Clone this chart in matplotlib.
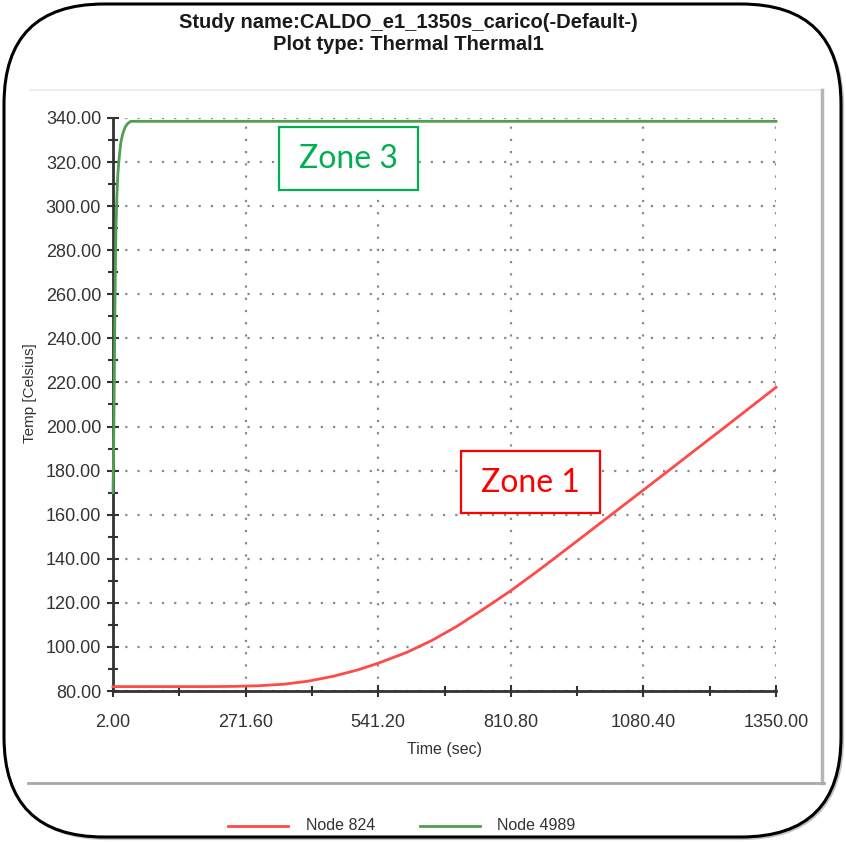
import matplotlib
matplotlib.use("Agg")
import matplotlib.pyplot as plt
from matplotlib.patches import FancyBboxPatch, Rectangle
from matplotlib.ticker import FixedLocator, MultipleLocator
from matplotlib.lines import Line2D

# ---- data ----
title_lines = ["Study name:CALDO_e1_1350s_carico(-Default-)", "Plot type: Thermal Thermal1"]
x_ticks = [2.00, 271.60, 541.20, 810.80, 1080.40, 1350.00]
y_ticks = [80, 100, 120, 140, 160, 180, 200, 220, 240, 260, 280, 300, 320, 340]

time_824 = [2, 100, 200, 250, 300, 350, 400, 450, 500, 541.2, 600, 650, 700, 750, 810.8,
            870, 930, 1000, 1080.4, 1130, 1200, 1240, 1300, 1350]
temp_824 = [82, 82, 82, 82.1, 82.4, 83.1, 84.5, 86.7, 89.6, 92.6, 97.6, 102.9, 109.2, 116.4, 125.5,
            135.2, 145.4, 157.4, 171.2, 179.7, 191.8, 198.7, 209.1, 217.8]

time_4989 = [2, 3, 4, 5, 6, 7, 8, 10, 12, 15, 18, 22, 27, 32, 38, 50, 1350]
temp_4989 = [170, 185, 205, 230, 255, 275, 290, 305, 315, 323, 329, 333, 336, 337.5,
             338.5, 338.5, 338.5]

series_names = ["Node 824", "Node 4989"]
red = "#ff4a4a"
green = "#4f9f4f"

W, H = 846, 842
fig = plt.figure(figsize=(W / 100, H / 100), dpi=100)
fig.patch.set_facecolor("white")

# background frame axes in pixel coordinates
bg = fig.add_axes([0, 0, 1, 1], zorder=-5)
bg.set_xlim(0, W)
bg.set_ylim(H, 0)
bg.axis("off")
shadow = FancyBboxPatch((7, 7), W - 11, H - 11,
                        boxstyle="round,pad=0,rounding_size=100",
                        fc="none", ec="#9a9a9a", lw=3, alpha=0.6)
bg.add_patch(shadow)
frame = FancyBboxPatch((4, 4), W - 9, H - 9,
                       boxstyle="round,pad=0,rounding_size=100",
                       fc="white", ec="black", lw=2.2)
bg.add_patch(frame)
# inner panel lines
bg.plot([30, 822], [90, 90], color="#eeeeee", lw=1.5)
bg.plot([822, 822], [90, 783], color="#b5b5b5", lw=2.5)
bg.plot([28, 824], [783, 783], color="#a8a8a8", lw=2)

# title
fig.text(408 / W, 1 - 22 / H, title_lines[0], ha="center", va="center",
         fontsize=14.5, fontweight="bold", family="Liberation Sans", color="#1a1a1a")
fig.text(408 / W, 1 - 45 / H, title_lines[1], ha="center", va="center",
         fontsize=14.5, fontweight="bold", family="Liberation Sans", color="#1a1a1a")

# main axes
ax = fig.add_axes([113 / W, 1 - 691 / H, (776 - 113) / W, (691 - 118) / H])
ax.set_facecolor("none")
ax.plot(time_824, temp_824, color=red, lw=2, zorder=3, clip_on=False)
ax.plot(time_4989, temp_4989, color=green, lw=2, zorder=3, clip_on=False)
ax.set_xlim(2, 1350)
ax.set_ylim(80, 340)

ax.xaxis.set_major_locator(FixedLocator(x_ticks))
ax.set_xticklabels([f"{v:.2f}" for v in x_ticks])
ax.xaxis.set_minor_locator(FixedLocator([(x_ticks[i] + x_ticks[i + 1]) / 2 for i in range(len(x_ticks) - 1)]))
ax.yaxis.set_major_locator(FixedLocator(y_ticks))
ax.set_yticklabels([f"{v:.2f}" for v in y_ticks])
ax.yaxis.set_minor_locator(MultipleLocator(10))

for s in ["top", "right"]:
    ax.spines[s].set_visible(False)
for s in ["left", "bottom"]:
    ax.spines[s].set_color("#333333")
    ax.spines[s].set_linewidth(2)

ax.tick_params(which="major", direction="inout", length=9, width=1.5, color="#333333",
               labelsize=13, labelcolor="#333333", pad=6)
ax.tick_params(which="minor", direction="inout", length=7, width=1.5, color="#333333")
for lab in ax.get_xticklabels() + ax.get_yticklabels():
    lab.set_family("Liberation Sans")
ax.tick_params(axis="x", pad=12)
ax.tick_params(axis="y", pad=4)

ax.grid(True, which="major", color="#8a8a8a", linestyle=(0, (1, 4.5)), linewidth=1.6)
ax.set_axisbelow(True)

ax.set_xlabel("Time (sec)", fontsize=11.5, family="Liberation Sans", color="#333333", labelpad=8)
fig.text(30 / W, 1 - 393 / H, "Temp [Celsius]", rotation=90, ha="center", va="center",
         fontsize=11, family="Liberation Sans", color="#333333")

# zone annotations (pixel coordinates on bg axes)
gz = Rectangle((279, 127), 139, 63, fc="white", ec="#00b050", lw=1.6, zorder=10,
               transform=bg.transData)
rz = Rectangle((461, 451), 139, 62, fc="white", ec="#ff0000", lw=1.6, zorder=10,
               transform=bg.transData)
fig.add_artist(gz)
fig.add_artist(rz)
fig.text(348 / W, 1 - 159 / H, "Zone 3", ha="center", va="center", fontsize=23,
         family="Lato", color="#00b050", zorder=11)
fig.text(530 / W, 1 - 483 / H, "Zone 1", ha="center", va="center", fontsize=23,
         family="Lato", color="#ff0000", zorder=11)

# legend
fig.add_artist(Line2D([228 / W, 288 / W], [1 - 826 / H, 1 - 826 / H], color=red, lw=2))
fig.add_artist(Line2D([420 / W, 480 / W], [1 - 826 / H, 1 - 826 / H], color=green, lw=2))
fig.text(306 / W, 1 - 826 / H, series_names[0], ha="left", va="center", fontsize=11.5,
         family="Liberation Sans", color="#333333")
fig.text(497 / W, 1 - 826 / H, series_names[1], ha="left", va="center", fontsize=11.5,
         family="Liberation Sans", color="#333333")

fig.savefig("out.png", dpi=100, facecolor="white")
